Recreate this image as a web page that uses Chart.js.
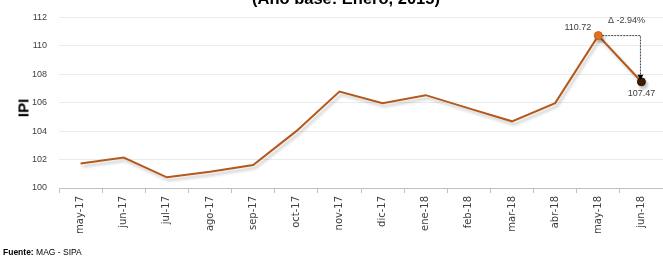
<!DOCTYPE html>
<html>
<head>
<meta charset="utf-8">
<script src="https://cdn.jsdelivr.net/npm/chart.js"></script>
<style>
    html, body { margin: 0; padding: 0; background: #fff; }
    .wrap { position: relative; width: 663px; height: 264px; overflow: hidden; font-family: "Liberation Sans", Arial, sans-serif; }
    .wrap canvas { position: absolute; left: 0; top: 0; }
    .title { position: absolute; left: 0; width: 692px; top: -10px; line-height: 16.5px; text-align: center; font-weight: bold; font-size: 16.5px; color: #000; white-space: nowrap; }
    .ytitle { position: absolute; left: 23px; top: 108px; transform: translate(-50%, -50%) rotate(-90deg); font-weight: bold; font-size: 15px; color: #000; }
    .source { position: absolute; left: 3px; top: 247px; font-size: 8.5px; color: #000; }
</style>
</head>
<body>
<div class="wrap">
    <canvas id="ipiChart" width="663" height="264"></canvas>
    <div class="title">(Año base: Enero, 2015)</div>
    <div class="ytitle">IPI</div>
    <div class="source"><b>Fuente:</b> MAG - SIPA</div>
</div>
<script>
    // datos
    var months = ['may-17', 'jun-17', 'jul-17', 'ago-17', 'sep-17', 'oct-17', 'nov-17',
                  'dic-17', 'ene-18', 'feb-18', 'mar-18', 'abr-18', 'may-18', 'jun-18'];
    var ipi = [101.72, 102.14, 100.75, 101.15, 101.62, 104.0, 106.78,
               105.97, 106.53, 105.6, 104.69, 105.97, 110.72, 107.47];
    var yTicks = [100, 102, 104, 106, 108, 110, 112];

    var last = ipi.length - 1;
    var prev = last - 1;
    var delta = ((ipi[last] / ipi[prev]) - 1) * 100;

    var shadowPlugin = {
        id: 'lineShadow',
        beforeDatasetDraw: function (chart) {
            var ctx = chart.ctx;
            ctx.save();
            ctx.shadowColor = 'rgba(0,0,0,0.22)';
            ctx.shadowOffsetX = 2;
            ctx.shadowOffsetY = 3;
            ctx.shadowBlur = 3;
        },
        afterDatasetDraw: function (chart) {
            chart.ctx.restore();
        }
    };

    var deltaPlugin = {
        id: 'deltaNote',
        afterDatasetsDraw: function (chart) {
            var ctx = chart.ctx;
            var xs = chart.scales.x, ys = chart.scales.y;
            var x1 = xs.getPixelForValue(prev), y1 = ys.getPixelForValue(ipi[prev]);
            var x2 = xs.getPixelForValue(last), y2 = ys.getPixelForValue(ipi[last]);
            ctx.save();
            ctx.strokeStyle = '#404040';
            ctx.lineWidth = 1;
            ctx.setLineDash([2, 1]);
            ctx.beginPath();
            ctx.moveTo(x1 + 4, y1);
            ctx.lineTo(x2 - 1, y1);
            ctx.lineTo(x2 - 1, y2 - 4);
            ctx.stroke();
            ctx.setLineDash([]);
            ctx.fillStyle = '#000';
            ctx.beginPath();
            ctx.moveTo(x2 - 4, y2 - 7);
            ctx.lineTo(x2 + 2, y2 - 7);
            ctx.lineTo(x2 - 1, y2 - 2);
            ctx.closePath();
            ctx.fill();

            ctx.font = '9px "Liberation Sans Narrow", "Liberation Sans", sans-serif';
            ctx.fillStyle = '#404040';
            ctx.textBaseline = 'middle';
            ctx.textAlign = 'center';
            ctx.fillText('Δ ' + delta.toFixed(2) + '%', x2 - 15, y1 - 15);
            ctx.textAlign = 'right';
            ctx.fillText(ipi[prev].toFixed(2), x1 - 7, y1 - 8);
            ctx.textAlign = 'center';
            ctx.fillText(ipi[last].toFixed(2), x2, y2 + 12);
            ctx.restore();
        }
    };

    var ctx = document.getElementById('ipiChart').getContext('2d');
    var chart = new Chart(ctx, {
        type: 'line',
        data: {
            labels: months,
            datasets: [{
                data: ipi,
                borderColor: '#b4581c',
                borderWidth: 2,
                tension: 0,
                pointRadius: function (c) { return c.dataIndex >= prev ? 4 : 0; },
                pointBackgroundColor: function (c) { return c.dataIndex === last ? '#3b1f0a' : '#e8771f'; },
                pointBorderColor: function (c) { return c.dataIndex === last ? '#2a1505' : '#c4601a'; },
                pointBorderWidth: 1
            }]
        },
        options: {
            responsive: false,
            animation: false,
            layout: { autoPadding: false, padding: { top: 16, right: 0, bottom: 0, left: 0 } },
            plugins: {
                legend: { display: false },
                tooltip: { enabled: false }
            },
            scales: {
                x: {
                    offset: true,
                    afterFit: function (scale) {
                        scale.height = 76;
                        scale.paddingLeft = 0;
                        scale.paddingRight = 0;
                    },
                    grid: { offset: true, drawOnChartArea: false, tickLength: 5, color: '#bfbfbf' },
                    border: { color: '#bfbfbf' },
                    ticks: {
                        maxRotation: 90, minRotation: 90, padding: 3,
                        color: '#404040',
                        font: { family: '"DejaVu Sans", sans-serif', size: 10 }
                    }
                },
                y: {
                    min: 100, max: 112,
                    afterFit: function (scale) { scale.width = 59; },
                    afterBuildTicks: function (scale) {
                        scale.ticks = yTicks.map(function (v) { return { value: v }; });
                    },
                    grid: { color: '#ebebeb', drawTicks: false },
                    border: { display: false },
                    ticks: {
                        padding: 12,
                        color: '#404040',
                        font: { family: '"Liberation Sans Narrow", "Liberation Sans", sans-serif', size: 9 }
                    }
                }
            }
        },
        plugins: [shadowPlugin, deltaPlugin]
    });
</script>
</body>
</html>
